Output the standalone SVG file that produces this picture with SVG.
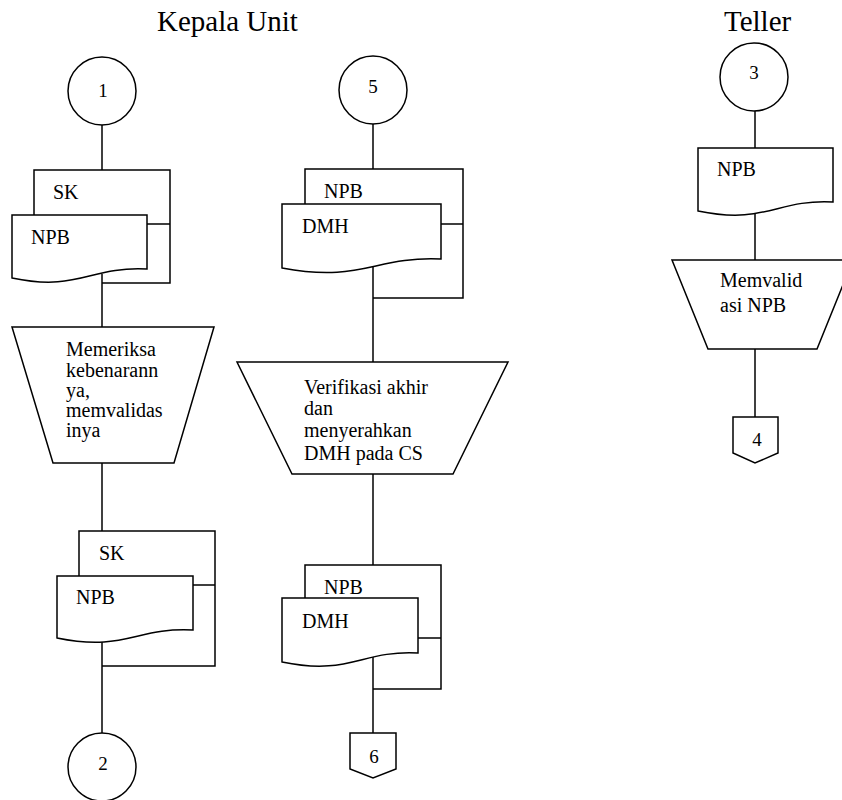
<svg xmlns="http://www.w3.org/2000/svg" width="842" height="800" viewBox="0 0 842 800">
  <style>
    .s { fill: none; stroke: #000; stroke-width: 1.5; }
    .b { fill: #fff; stroke: #000; stroke-width: 1.5; }
    text { font-family: "Liberation Serif", "Times New Roman", serif; fill: #000; }
    .t { font-size: 20px; }
    .h { font-size: 29px; }
    .n { font-size: 19px; text-anchor: middle; }
  </style>
  <rect width="842" height="800" fill="#fff"/>

  <!-- lane titles -->
  <text class="h" x="157" y="31">Kepala Unit</text>
  <text class="h" x="724" y="31">Teller</text>

  <!-- connectors -->
  <g id="connectors" class="s">
    <!-- Kepala Unit, left column -->
    <path d="M102,125 V170"/>
    <path d="M102,274 V327"/>
    <path d="M102,463 V531"/>
    <path d="M102,641 V733"/>
    <!-- Kepala Unit, right column -->
    <path d="M373,124 V169"/>
    <path d="M373,261 V362"/>
    <path d="M373,474 V565"/>
    <path d="M373,655 V733"/>
    <!-- Teller -->
    <path d="M755,111 V148"/>
    <path d="M755,207 V260"/>
    <path d="M755,349 V417"/>
  </g>

  <!-- connector 1 -->
  <g id="c1">
    <circle class="b" cx="102" cy="91" r="34"/>
    <text class="n" x="103" y="97">1</text>
  </g>

  <!-- SK + NPB documents (input) -->
  <g id="docs1">
    <path class="s" d="M34,215 V170 H170 V283 H102 M147,224 H170"/>
    <path class="b" d="M12,278 C79,292 89,266 147,269 V215 H12 Z"/>
    <text class="t" x="53" y="199">SK</text>
    <text class="t" x="31" y="244">NPB</text>
  </g>

  <!-- manual operation: check and validate -->
  <g id="p1">
    <path class="b" d="M12,327 H214 L174,463 H53 Z"/>
    <text class="t" x="66" y="356">Memeriksa</text>
    <text class="t" x="66" y="377">kebenarann</text>
    <text class="t" x="66" y="397">ya,</text>
    <text class="t" x="66" y="417">memvalidas</text>
    <text class="t" x="66" y="437">inya</text>
  </g>

  <!-- SK + NPB documents (output) -->
  <g id="docs2">
    <path class="s" d="M79,576 V531 H215 V666 H102 M193,585 H215"/>
    <path class="b" d="M57,638 C125,652 136,627 193,630 V576 H57 Z"/>
    <text class="t" x="99" y="560">SK</text>
    <text class="t" x="76" y="604">NPB</text>
  </g>

  <!-- connector 2 -->
  <g id="c2">
    <circle class="b" cx="102" cy="767" r="34"/>
    <text class="n" x="103" y="770">2</text>
  </g>

  <!-- connector 5 -->
  <g id="c5">
    <circle class="b" cx="373" cy="90" r="34"/>
    <text class="n" x="373" y="93">5</text>
  </g>

  <!-- NPB + DMH documents (input) -->
  <g id="docs3">
    <path class="s" d="M305,204 V169 H463 V298 H373 M441,224 H463"/>
    <path class="b" d="M282,268 C362,283 374,256 441,259 V204 H282 Z"/>
    <text class="t" x="324" y="198">NPB</text>
    <text class="t" x="302" y="233">DMH</text>
  </g>

  <!-- manual operation: final verification -->
  <g id="p2">
    <path class="b" d="M237,362 H508 L453,474 H292 Z"/>
    <text class="t" x="304" y="394">Verifikasi akhir</text>
    <text class="t" x="304" y="415">dan</text>
    <text class="t" x="304" y="437">menyerahkan</text>
    <text class="t" x="304" y="460">DMH pada CS</text>
  </g>

  <!-- NPB + DMH documents (output) -->
  <g id="docs4">
    <path class="s" d="M305,598 V565 H441 V689 H373 M418,638 H441"/>
    <path class="b" d="M282,662 C350,676 361,650 418,653 V598 H282 Z"/>
    <text class="t" x="324" y="594">NPB</text>
    <text class="t" x="302" y="628">DMH</text>
  </g>

  <!-- off-page connector 6 -->
  <g id="c6">
    <path class="b" d="M350,733 H396 V769 L373,778 L350,769 Z"/>
    <text class="n" x="374" y="763">6</text>
  </g>

  <!-- connector 3 -->
  <g id="c3">
    <circle class="b" cx="754" cy="77" r="34"/>
    <text class="n" x="754" y="79">3</text>
  </g>

  <!-- NPB document -->
  <g id="doc5">
    <path class="b" d="M698,211 C766,225 776,199 833,202 V148 H698 Z"/>
    <text class="t" x="717" y="176">NPB</text>
  </g>

  <!-- manual operation: validate NPB -->
  <g id="p3">
    <path class="b" d="M672,260 H853 L817,349 H708 Z"/>
    <text class="t" x="720" y="287">Memvalid</text>
    <text class="t" x="720" y="312">asi NPB</text>
  </g>

  <!-- off-page connector 4 -->
  <g id="c4">
    <path class="b" d="M733,417 H778 V453 L755,463 L733,453 Z"/>
    <text class="n" x="757" y="446">4</text>
  </g>
</svg>
